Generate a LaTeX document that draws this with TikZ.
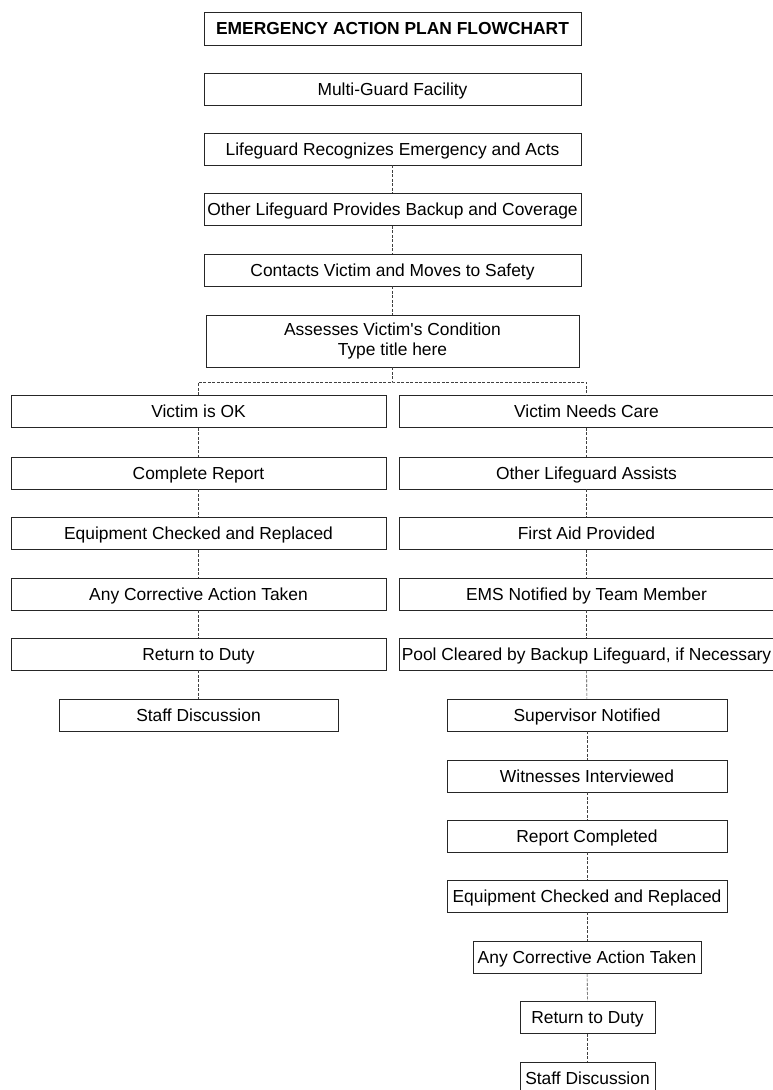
\documentclass[tikz,border=0pt]{standalone}
\usepackage{fontspec}
\setmainfont{Liberation Sans}
\usepackage{tikz}

\begin{document}
\begin{tikzpicture}[x=1pt,y=-1pt,
  box/.style={draw=black!85,line width=.8pt,inner sep=0pt,
    minimum height=32pt,align=center,font=\fontsize{17.4}{20.5}\selectfont},
  stepbox/.style={box,text height=16.5pt,text depth=3.6pt},
  link/.style={draw=black!75,line width=.6pt,dash pattern=on 3pt off 1.5pt}]
  \useasboundingbox (0,0) rectangle (773,1090);

  \node[stepbox,minimum width=377pt,minimum height=33pt,font=\fontsize{17.4}{20.5}\selectfont\bfseries]
    (title) at (392.5,28.5) {EMERGENCY ACTION PLAN FLOWCHART};
  \node[stepbox,minimum width=377pt] (facility) at (392.5,89) {Multi-Guard Facility};
  \node[stepbox,minimum width=377pt] (recog) at (392.5,149) {Lifeguard Recognizes Emergency and Acts};
  \node[stepbox,minimum width=377pt] (backup) at (392.5,209.5) {Other Lifeguard Provides Backup and Coverage};
  \node[stepbox,minimum width=377pt] (contact) at (392.5,270) {Contacts Victim and Moves to Safety};
  \node[box,minimum width=373pt,minimum height=52pt] (assess) at (392.5,341)
    {Assesses Victim\textquotesingle s Condition\\Type title here};
  \coordinate (split) at (392.5,382);

  % left branch
  \node[stepbox,minimum width=375pt] (ok) at (198.5,411.5) {Victim is OK};
  \node[stepbox,minimum width=375pt] (lreport) at (198.5,473) {Complete Report};
  \node[stepbox,minimum width=375pt] (lequip) at (198.5,533.5) {Equipment Checked and Replaced};
  \node[stepbox,minimum width=375pt] (lcorrect) at (198.5,594) {Any Corrective Action Taken};
  \node[stepbox,minimum width=375pt] (lduty) at (198.5,654) {Return to Duty};
  \node[stepbox,minimum width=279pt] (lstaff) at (198.5,715) {Staff Discussion};

  % right branch
  \node[stepbox,minimum width=375pt] (care) at (586.5,411.5) {Victim Needs Care};
  \node[stepbox,minimum width=375pt] (assist) at (586.5,473) {Other Lifeguard Assists};
  \node[stepbox,minimum width=375pt] (aid) at (586.5,533.5) {First Aid Provided};
  \node[stepbox,minimum width=375pt] (ems) at (586.5,594) {EMS Notified by Team Member};
  \node[stepbox,minimum width=375pt] (pool) at (586.5,654) {Pool Cleared by Backup Lifeguard, if Necessary};
  \node[stepbox,minimum width=280pt] (super) at (587,715) {Supervisor Notified};
  \node[stepbox,minimum width=280pt] (witness) at (587,776) {Witnesses Interviewed};
  \node[stepbox,minimum width=280pt] (rreport) at (587,836) {Report Completed};
  \node[stepbox,minimum width=280pt] (requip) at (587,896) {Equipment Checked and Replaced};
  \node[stepbox,minimum width=228pt] (rcorrect) at (587,957.5) {Any Corrective Action Taken};
  \node[stepbox,minimum width=135pt] (rduty) at (587.5,1017.5) {Return to Duty};
  \node[stepbox,minimum width=135pt] (rstaff) at (587.5,1078) {Staff Discussion};

  \draw[link] (recog) -- (backup);
  \draw[link] (backup) -- (contact);
  \draw[link] (contact) -- (assess);
  \draw[link] (assess) -- (split);
  \draw[link] (ok.north) |- (split) -| (care.north);

  \foreach \a/\b in {ok/lreport,lreport/lequip,lequip/lcorrect,lcorrect/lduty,lduty/lstaff,
    care/assist,assist/aid,aid/ems,ems/pool,pool/super,super/witness,witness/rreport,
    rreport/requip,requip/rcorrect,rcorrect/rduty,rduty/rstaff}
    \draw[link] (\a) -- (\b);
\end{tikzpicture}
\end{document}
